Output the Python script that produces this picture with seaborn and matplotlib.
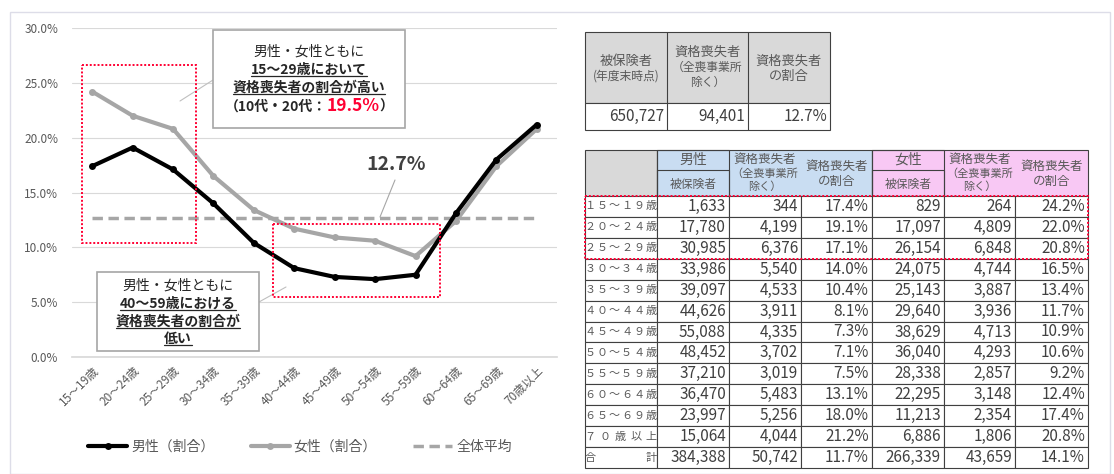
import numpy as np
import pandas as pd
import matplotlib
matplotlib.use("Agg")
import matplotlib.pyplot as plt
from matplotlib.patches import Rectangle
from matplotlib.lines import Line2D
import seaborn as sns

# ---- data ----
age_labels = ["15～19歳", "20～24歳", "25～29歳", "30～34歳", "35～39歳", "40～44歳",
              "45～49歳", "50～54歳", "55～59歳", "60～64歳", "65～69歳", "70歳以上"]
table_age_labels = ["１５～１９歳", "２０～２４歳", "２５～２９歳", "３０～３４歳", "３５～３９歳",
                    "４０～４４歳", "４５～４９歳", "５０～５４歳", "５５～５９歳", "６０～６４歳",
                    "６５～６９歳", "７０歳以上"]
male_insured = [1633, 17780, 30985, 33986, 39097, 44626, 55088, 48452, 37210, 36470, 23997, 15064]
male_lost = [344, 4199, 6376, 5540, 4533, 3911, 4335, 3702, 3019, 5483, 5256, 4044]
male_rate = [17.4, 19.1, 17.1, 14.0, 10.4, 8.1, 7.3, 7.1, 7.5, 13.1, 18.0, 21.2]
female_insured = [829, 17097, 26154, 24075, 25143, 29640, 38629, 36040, 28338, 22295, 11213, 6886]
female_lost = [264, 4809, 6848, 4744, 3887, 3936, 4713, 4293, 2857, 3148, 2354, 1806]
female_rate = [24.2, 22.0, 20.8, 16.5, 13.4, 11.7, 10.9, 10.6, 9.2, 12.4, 17.4, 20.8]
male_total = [384388, 50742, 11.7]
female_total = [266339, 43659, 14.1]
total_insured = 650727
total_lost = 94401
total_rate = 12.7

W, H = 1114, 474
DARK = "#262626"
GREY_TXT = "#595959"
RED = "#FF0033"

sns.set_theme(style="white")
plt.rcParams['font.family'] = ['Noto Sans CJK JP', 'DejaVu Sans']

fig = plt.figure(figsize=(W / 100, H / 100), dpi=100)

# ---- line chart ----
ax = fig.add_axes([72 / W, 1 - 357 / H, 485 / W, 329 / H])
n = len(age_labels)
df = pd.DataFrame({
    "pos": list(range(n)) * 2,
    "rate": male_rate + female_rate,
    "sex": ["男性（割合）"] * n + ["女性（割合）"] * n,
})
sns.lineplot(data=df[df.sex == "女性（割合）"], x="pos", y="rate", color="#A6A6A6", lw=3,
             marker="o", markersize=5, markeredgewidth=0, ax=ax, zorder=3, legend=False)
sns.lineplot(data=df[df.sex == "男性（割合）"], x="pos", y="rate", color="black", lw=3,
             marker="o", markersize=5, markeredgewidth=0, ax=ax, zorder=4, legend=False)
ax.hlines(total_rate, 0, n - 1, colors="#A6A6A6", lw=2.5, linestyles=(0, (3, 1.6)), zorder=2)

ax.set_xlim(-0.5, n - 0.5)
ax.set_ylim(0, 30)
ax.set_yticks(np.arange(0, 31, 5))
ax.set_yticklabels([f"{v:.1f}%" for v in np.arange(0, 31, 5)])
ax.set_xticks(range(n))
ax.set_xticklabels(age_labels, rotation=45, ha="right", rotation_mode="anchor")
ax.set_xlabel("")
ax.set_ylabel("")
ax.yaxis.grid(True, color="#D9D9D9", lw=0.8)
ax.xaxis.grid(False)
for s in ["top", "right", "left"]:
    ax.spines[s].set_visible(False)
ax.spines["bottom"].set_color("#D9D9D9")
ax.tick_params(axis="y", length=0, labelsize=8.5, labelcolor=GREY_TXT, pad=10)
ax.tick_params(axis="x", length=0, labelsize=8.5, labelcolor=GREY_TXT, pad=5)

handles = [
    Line2D([], [], color="black", lw=3, marker="o", markersize=5, markeredgewidth=0),
    Line2D([], [], color="#A6A6A6", lw=3, marker="o", markersize=5, markeredgewidth=0),
    Line2D([], [], color="#A6A6A6", lw=2.5, ls=(0, (3, 1.6))),
]
leg = fig.legend(handles, ["男性（割合）", "女性（割合）", "全体平均"], loc="center",
                 bbox_to_anchor=(300 / W, 1 - 447 / H), ncol=3, frameon=False, fontsize=10,
                 handlelength=2.8, handletextpad=0.3, columnspacing=2.6)
for t in leg.get_texts():
    t.set_color(GREY_TXT)

# ---- overlay in pixel coordinates ----
ov = fig.add_axes([0, 0, 1, 1])
ov.set_xlim(0, W)
ov.set_ylim(H, 0)
ov.axis("off")
ov.patch.set_alpha(0)

ov.add_patch(Rectangle((10, 12), W - 14, H - 12, fc="none", ec="#DDDDE8", lw=1))


def box(x0, y0, x1, y1, **kw):
    ov.add_patch(Rectangle((x0, y0), x1 - x0, y1 - y0, **kw))


# red highlight frames
box(82, 65, 196, 243, fc="none", ec=RED, lw=1.4, ls=(0, (1, 1)), zorder=5)
box(273, 224, 440, 297, fc="none", ec=RED, lw=1.4, ls=(0, (1, 1)), zorder=5)

# callout boxes
box(213, 30, 405, 128, fc="white", ec="#A6A6A6", lw=1.2, zorder=6)
box(97, 272, 259, 351, fc="white", ec="#A6A6A6", lw=1.2, zorder=6)
ov.plot([180, 213], [101, 80], color="#BFBFBF", lw=0.8)
ov.plot([259, 286], [302, 287], color="#BFBFBF", lw=0.8)
ov.plot([395, 380], [180, 217], color="#A6A6A6", lw=0.8)
ov.text(396, 164, f"{total_rate}%", ha="center", va="center", fontsize=14, fontweight="bold",
        color="#404040")

underlined = []
cx1 = (213 + 405) / 2
ov.text(cx1, 52, "男性・女性ともに", ha="center", va="center", fontsize=10, color=DARK, zorder=7)
underlined.append(ov.text(cx1, 70, "15～29歳において", ha="center", va="center", fontsize=10,
                          fontweight="bold", color=DARK, zorder=7))
underlined.append(ov.text(cx1, 88, "資格喪失者の割合が高い", ha="center", va="center", fontsize=10,
                          fontweight="bold", color=DARK, zorder=7))
parts = [("（10代・20代：", DARK, 10), ("19.5%", RED, 12.5), ("）", DARK, 10)]
part_texts = [ov.text(0, 111, s, ha="left", va="baseline", fontsize=fs, fontweight="bold",
                      color=c, zorder=7) for s, c, fs in parts]

cx2 = (97 + 259) / 2
ov.text(cx2, 286, "男性・女性ともに", ha="center", va="center", fontsize=10, color=DARK, zorder=7)
for yy, s in [(304, "40～59歳における"), (322, "資格喪失者の割合が"), (339, "低い")]:
    underlined.append(ov.text(cx2, yy, s, ha="center", va="center", fontsize=10,
                              fontweight="bold", color=DARK, zorder=7))

# ---- tables ----
EDGE = "#404040"
NUM = "#404040"
GREY_HDR = "#D9D9D9"
BLUE = "#C9DDF2"
PINK = "#F8C8F4"


def spread(text, x0, x1, yc, **kw):
    xs = np.linspace(x0 + 5, x1 - 6, len(text))
    for ch, x in zip(text, xs):
        ov.text(x, yc, ch, ha="center", va="center", **kw)


def lines(xc, items):
    # items: (text, y, fontsize)
    for s, yy, fs in items:
        ov.text(xc, yy, s, ha="center", va="center", fontsize=fs, color=GREY_TXT)


# table 1: totals
c1 = [585, 667, 748, 830]
box(c1[0], 32, c1[3], 103, fc=GREY_HDR, ec=EDGE, lw=0.8)
for x in c1[1:3]:
    ov.plot([x, x], [32, 130], color=EDGE, lw=0.8)
box(c1[0], 103, c1[3], 130, fc="white", ec=EDGE, lw=0.8)
lines((c1[0] + c1[1]) / 2, [("被保険者", 61, 9.5), ("(年度末時点)", 76, 8.5)])
lines((c1[1] + c1[2]) / 2, [("資格喪失者", 52, 9.5), ("（全喪事業所", 67, 8.5), ("除く）", 82, 8.5)])
lines((c1[2] + c1[3]) / 2, [("資格喪失者", 61, 9.5), ("の割合", 76, 9.5)])
vals1 = [f"{total_insured:,}", f"{total_lost:,}", f"{total_rate:.1f}%"]
for i, s in enumerate(vals1):
    ov.text(c1[i + 1] - 3, 116.5, s, ha="right", va="center", fontsize=11, color=NUM)

# table 2: by age and sex
c2 = [585, 657, 729, 801, 872, 944, 1015, 1088]
top, mid, hb, bottom = 150, 170, 196, 468
rows = table_age_labels + ["合計"]
rh = (bottom - hb) / len(rows)

box(c2[0], top, c2[1], hb, fc=GREY_HDR, ec=EDGE, lw=0.8)
for k, (fc, lab) in enumerate([(BLUE, "男性"), (PINK, "女性")]):
    a = c2[1 + 3 * k]
    box(a, top, c2[4 + 3 * k], hb, fc=fc, ec=EDGE, lw=0.8)
    box(a, top, c2[2 + 3 * k], hb, fc="none", ec=EDGE, lw=0.8)
    box(a, mid, c2[2 + 3 * k], hb, fc="none", ec=EDGE, lw=0.8)
    lines((a + c2[2 + 3 * k]) / 2, [(lab, 160, 10), ("被保険者", 184, 8.5)])
    lines((c2[2 + 3 * k] + c2[3 + 3 * k]) / 2,
          [("資格喪失者", 159, 9), ("（全喪事業所", 174, 8), ("除く）", 187, 8)])
    lines((c2[3 + 3 * k] + c2[4 + 3 * k]) / 2, [("資格喪失者", 166, 9), ("の割合", 181, 9)])

table_rows = list(zip(male_insured, male_lost, male_rate, female_insured, female_lost, female_rate))
table_rows.append(tuple(male_total + female_total))
for r, (lab, vals) in enumerate(zip(rows, table_rows)):
    y0 = hb + r * rh
    for j in range(7):
        box(c2[j], y0, c2[j + 1], y0 + rh, fc="white", ec=EDGE, lw=0.8)
    spread(lab, c2[0], c2[1], y0 + rh / 2, fontsize=8, color=GREY_TXT)
    texts = [f"{vals[0]:,}", f"{vals[1]:,}", f"{vals[2]:.1f}%",
             f"{vals[3]:,}", f"{vals[4]:,}", f"{vals[5]:.1f}%"]
    for j, s in enumerate(texts):
        ov.text(c2[j + 2] - 3, y0 + rh / 2, s, ha="right", va="center", fontsize=11, color=NUM)

box(c2[0], hb, c2[-1], hb + 3 * rh, fc="none", ec=RED, lw=1.4, ls=(0, (1, 1)), zorder=5)

# ---- text measuring: centre the mixed-colour line, draw underlines ----
fig.canvas.draw()
rend = fig.canvas.get_renderer()
widths = [t.get_window_extent(rend).width for t in part_texts]
x = cx1 - sum(widths) / 2
for t, w in zip(part_texts, widths):
    t.set_x(x)
    x += w

inv = ov.transData.inverted()
for t in underlined:
    bb = t.get_window_extent(rend)
    (x0, ya), (x1, yb) = inv.transform([[bb.x0, bb.y0], [bb.x1, bb.y1]])
    yl = max(ya, yb) - 1.5
    ov.plot([x0, x1], [yl, yl], color=DARK, lw=0.9, zorder=7)

fig.savefig("out.png", dpi=100)
